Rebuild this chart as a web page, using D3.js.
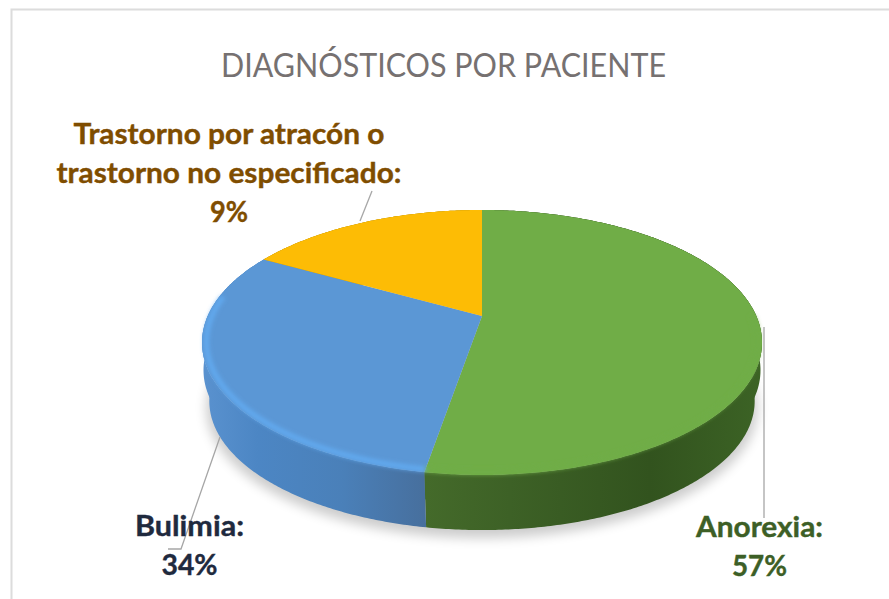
<!DOCTYPE html>
<html>
<head>
<meta charset="utf-8">
<script src="https://cdnjs.cloudflare.com/ajax/libs/d3/7.8.5/d3.min.js"></script>
<style>
  html, body { margin: 0; padding: 0; background: #fff; }
  svg { display: block; }
  text { font-family: Lato, "Open Sans", sans-serif; }
</style>
</head>
<body>
<div id="container"></div>
<script>
var categories = ["Anorexia", "Bulimia", "Trastorno por atracón o trastorno no especificado"]
// what the labels print
var labelPercents = [57, 34, 9]
// how big the wedges are actually drawn in the picture (they do not follow the labels)
var wedgeShares = [52.7, 30.4, 16.9]
var title = "DIAGNÓSTICOS POR PACIENTE"

var width = 889, height = 599

var svg = d3.select("#container").append("svg")
  .attr("width", width)
  .attr("height", height)

var defs = svg.append("defs")

defs.append("filter").attr("id", "soft")
  .attr("x", "-20%").attr("y", "-20%").attr("width", "140%").attr("height", "140%")
  .append("feGaussianBlur").attr("stdDeviation", 6)

defs.append("filter").attr("id", "rimblur")
  .attr("x", "-10%").attr("y", "-10%").attr("width", "120%").attr("height", "120%")
  .append("feGaussianBlur").attr("stdDeviation", 2)

// Cores
var topColor = d3.scaleOrdinal().domain(categories).range(["#70ad47", "#5b97d5", "#fdbc05"])
var rimColor = d3.scaleOrdinal().domain(categories).range(["#70ad47", "#62aaf0", "#fdbc05"])
var textColor = d3.scaleOrdinal().domain(categories).range(["#3d5f26", "#1f2a3e", "#7f4d00"])

function sideGradient(id, stops) {
  var g = defs.append("linearGradient").attr("id", id)
    .attr("gradientUnits", "userSpaceOnUse")
    .attr("x1", 202).attr("x2", 762).attr("y1", 0).attr("y2", 0)
  stops.forEach(function(s) {
    g.append("stop").attr("offset", s[0]).attr("stop-color", s[1])
  })
}
sideGradient("side0", [[0.40, "#446a2a"], [0.55, "#3d6126"], [0.80, "#32531e"], [1, "#3c6325"]])
sideGradient("side1", [[0, "#5a92cf"], [0.10, "#4c86c4"], [0.25, "#4a80b9"], [0.40, "#476f9d"]])
sideGradient("side2", [[0, "#bf9000"], [1, "#bf9000"]])

// Projecao em perspectiva do disco
var cx = 482, cy = 316, k = 0.2, A = 127.2, B = 274.3
// aneis da lateral: a borda desce quase reta e depois fecha
var rings = [{ r: 0.995, dy: 28 }, { r: 0.975, dy: 60 }]

function project(angle, r, dy) {
  var u = Math.sin(angle) * r
  var v = -Math.cos(angle) * r
  return [cx + B * u / (1 - k * v), cy + A * v / (1 - k * v) + dy]
}

function arcPoints(a0, a1, r, dy) {
  var n = Math.ceil(Math.abs(a1 - a0) / 0.01)
  return d3.range(n + 1).map(function(i) {
    return project(a0 + (a1 - a0) * i / n, r, dy)
  })
}

var line = d3.line()

var slices = d3.pie().sort(null).value(function(d, i) { return wedgeShares[i] })(categories)

// Moldura
svg.append("path")
  .attr("d", "M11.5,599V9.5H889")
  .attr("fill", "none")
  .attr("stroke", "#dcdcdc")
  .attr("stroke-width", 2)

// Titulo
svg.append("text")
  .text(title)
  .attr("x", 443.5)
  .attr("y", 77)
  .attr("text-anchor", "middle")
  .attr("font-size", 33)
  .attr("font-weight", 400)
  .attr("fill", "#767171")
  .attr("textLength", 445)
  .attr("lengthAdjust", "spacingAndGlyphs")

// Sombra
svg.append("path")
  .attr("d", line(arcPoints(0, 2 * Math.PI, 0.985, 66)) + "Z")
  .attr("fill", "#000")
  .attr("opacity", 0.2)
  .attr("filter", "url(#soft)")

// Lateral
rings.forEach(function(ring) {
  svg.selectAll(".side" + ring.dy)
    .data(slices)
    .enter().append("path")
    .attr("class", "side" + ring.dy)
    .attr("d", function(d) {
      var up = arcPoints(d.startAngle, d.endAngle, 1, 0)
      var down = arcPoints(d.endAngle, d.startAngle, ring.r, ring.dy)
      return line(up.concat(down)) + "Z"
    })
    .attr("fill", function(d, i) { return "url(#side" + i + ")" })
})

// Topo
svg.selectAll(".top")
  .data(slices)
  .enter().append("path")
  .attr("class", "top")
  .attr("d", function(d) {
    return line([[cx, cy]].concat(arcPoints(d.startAngle, d.endAngle, 1, 0))) + "Z"
  })
  .attr("fill", function(d) { return topColor(d.data) })

// Brilho da borda, so na parte da frente
var rimFrom = Math.PI / 2, rimTo = 1.55 * Math.PI
svg.selectAll(".rim")
  .data(slices.filter(function(d) { return d.startAngle < rimTo }))
  .enter().append("path")
  .attr("class", "rim")
  .attr("d", function(d) {
    return line(arcPoints(Math.max(d.startAngle, rimFrom), Math.min(d.endAngle, rimTo), 0.985, 0))
  })
  .attr("fill", "none")
  .attr("stroke", function(d) { return rimColor(d.data) })
  .attr("stroke-width", 5)
  .attr("filter", "url(#rimblur)")

// Linhas de chamada
var leaders = svg.append("g").attr("fill", "none").attr("stroke", "#a6a6a6").attr("stroke-width", 1.3)
leaders.append("path").attr("d", "M372,191L360,221")
leaders.append("path").attr("d", "M220,437L181,549H168")
leaders.append("path").attr("d", "M764,327V518")

// Rotulos
function label(cat, lines, x, ys, widths) {
  lines.forEach(function(t, i) {
    svg.append("text")
      .text(t)
      .attr("x", x)
      .attr("y", ys[i])
      .attr("text-anchor", "middle")
      .attr("font-size", 29)
      .attr("font-weight", 700)
      .attr("fill", textColor(cat))
      .attr("stroke", textColor(cat))
      .attr("stroke-width", 0.4)
      .attr("textLength", widths[i])
      .attr("lengthAdjust", "spacingAndGlyphs")
  })
}

label(categories[2],
  ["Trastorno por atracón o", "trastorno no especificado:", labelPercents[2] + "%"],
  229, [144, 183, 222], [311, 345, 38])
label(categories[1],
  [categories[1] + ":", labelPercents[1] + "%"],
  189.5, [536, 575], [109, 56])
label(categories[0],
  [categories[0] + ":", labelPercents[0] + "%"],
  759.5, [537, 576], [127, 55])
</script>
</body>
</html>
